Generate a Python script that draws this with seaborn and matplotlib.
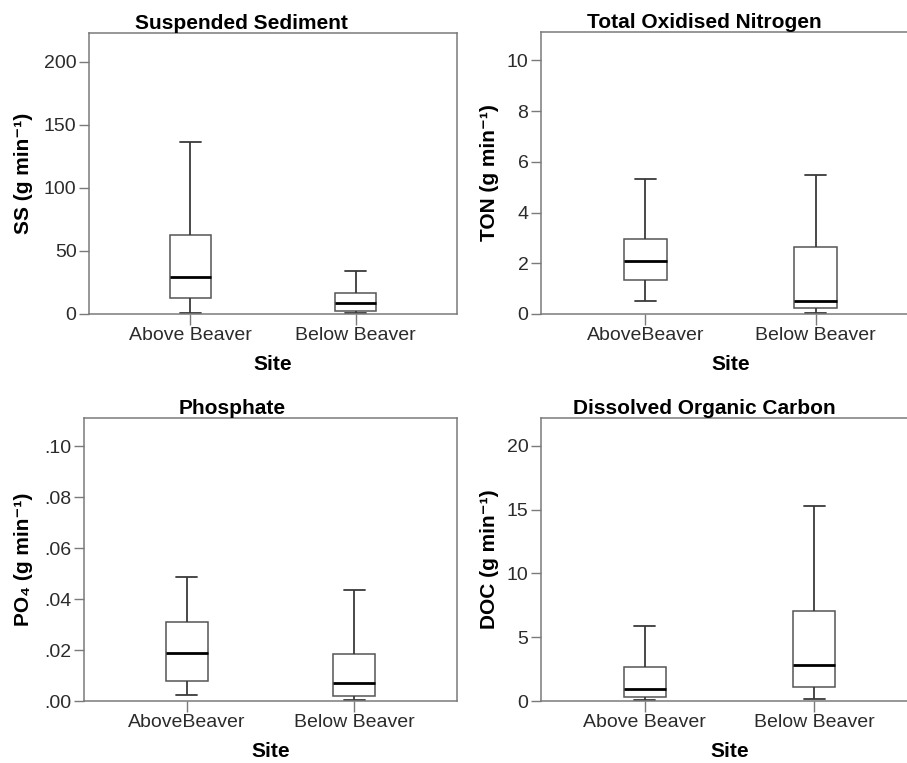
import numpy as np
import pandas as pd
import matplotlib
matplotlib.use("Agg")
import matplotlib.pyplot as plt
import seaborn as sns
from matplotlib.ticker import FuncFormatter

# ---------------- data (five-number summaries) -------------
# order: lower whisker, Q1, median, Q3, upper whisker
sites = ["Above Beaver", "Below Beaver"]

ss_above = [0.5, 12.9, 29.1, 62.7, 136.3]
ss_below = [0.5, 2.6, 8.5, 16.7, 34.1]

ton_above = [0.51, 1.34, 2.08, 2.97, 5.33]
ton_below = [0.03, 0.22, 0.51, 2.63, 5.49]

po4_above = [0.0025, 0.0080, 0.0190, 0.0308, 0.0486]
po4_below = [0.0003, 0.0020, 0.0071, 0.0185, 0.0435]

doc_above = [0.05, 0.31, 0.97, 2.65, 5.89]
doc_below = [0.13, 1.13, 2.86, 7.07, 15.29]

ss_ticklabels = ["Above Beaver", "Below Beaver"]
ton_ticklabels = ["AboveBeaver", "Below Beaver"]
po4_ticklabels = ["AboveBeaver", "Below Beaver"]
doc_ticklabels = ["Above Beaver", "Below Beaver"]

ss_yticks = [0, 50, 100, 150, 200]
ton_yticks = [0, 2, 4, 6, 8, 10]
po4_yticks = [0.00, 0.02, 0.04, 0.06, 0.08, 0.10]
doc_yticks = [0, 5, 10, 15, 20]

titles = ["Suspended Sediment", "Total Oxidised Nitrogen", "Phosphate", "Dissolved Organic Carbon"]
ylabels = ["SS (g min\u207b\u00b9)", "TON (g min\u207b\u00b9)", "PO\u2084 (g min\u207b\u00b9)", "DOC (g min\u207b\u00b9)"]

# ---------------- style ----------------
sns.set_style("ticks")
plt.rcParams["font.family"] = ["Liberation Sans", "DejaVu Sans"]

fig = plt.figure(figsize=(9.07, 7.63), dpi=100)
W, H = 907.0, 763.0


def px_axes(left, top, right, bottom):
    return fig.add_axes([left / W, 1 - bottom / H, (right - left) / W, (bottom - top) / H])


panels = [
    dict(pos=(89, 33, 457, 314), above=ss_above, below=ss_below, ticks=ss_yticks,
         ylim=(0, 223), xt=ss_ticklabels, title=titles[0], ylabel=ylabels[0],
         tx=0.413, ylx=-0.152, fmt=None),
    dict(pos=(541, 32, 920, 314), above=ton_above, below=ton_below, ticks=ton_yticks,
         ylim=(0, 11.12), xt=ton_ticklabels, title=titles[1], ylabel=ylabels[1],
         tx=0.43, ylx=-0.111, fmt=None),
    dict(pos=(84, 418, 457, 701), above=po4_above, below=po4_below, ticks=po4_yticks,
         ylim=(0, 0.111), xt=po4_ticklabels, title=titles[2], ylabel=ylabels[2],
         tx=0.396, ylx=-0.138, fmt="po4"),
    dict(pos=(541, 418, 918, 701), above=doc_above, below=doc_below, ticks=doc_yticks,
         ylim=(0, 22.18), xt=doc_ticklabels, title=titles[3], ylabel=ylabels[3],
         tx=0.432, ylx=-0.111, fmt=None),
]

frame_col = "#7a7a7a"
text_col = "#2b2b2b"

for p in panels:
    ax = px_axes(*p["pos"])
    df = pd.DataFrame({
        "Site": [sites[0]] * len(p["above"]) + [sites[1]] * len(p["below"]),
        "value": list(p["above"]) + list(p["below"]),
    })
    sns.boxplot(data=df, x="Site", y="value", order=sites, ax=ax,
                whis=(0, 100), width=0.25, color="white", linecolor="#555555",
                linewidth=1.1, showfliers=False,
                medianprops=dict(color="black", linewidth=2.0),
                whiskerprops=dict(color="#3a3a3a", linewidth=1.3),
                capprops=dict(color="#3a3a3a", linewidth=1.3))
    ax.set_xlim(-0.613, 1.613)
    ax.set_ylim(*p["ylim"])
    ax.set_yticks(p["ticks"])
    if p["fmt"] == "po4":
        ax.yaxis.set_major_formatter(FuncFormatter(lambda v, pos: f"{v:.2f}".lstrip("0")))
    ax.set_xticks([0, 1])
    ax.set_xticklabels(p["xt"])
    for s in ax.spines.values():
        s.set_visible(True)
        s.set_color(frame_col)
        s.set_linewidth(1.1)
    ax.tick_params(axis="y", direction="out", length=7, width=1.0, pad=2,
                   colors=frame_col, labelcolor=text_col, labelsize=14)
    ax.tick_params(axis="x", direction="out", length=8, width=1.0, pad=1.5,
                   colors=frame_col, labelcolor=text_col, labelsize=14)
    ax.set_title(p["title"], x=p["tx"], fontsize=15, fontweight="bold", pad=2.5, color="black")
    ax.set_xlabel("Site", fontsize=15, fontweight="bold", color="black")
    ax.set_ylabel(p["ylabel"], fontsize=15, fontweight="bold", color="black")
    ax.xaxis.set_label_coords(0.5, -0.145)
    ax.yaxis.set_label_coords(p["ylx"], 0.5)
    ax.set_facecolor("white")

fig.savefig("out.png", dpi=100, facecolor="white")
